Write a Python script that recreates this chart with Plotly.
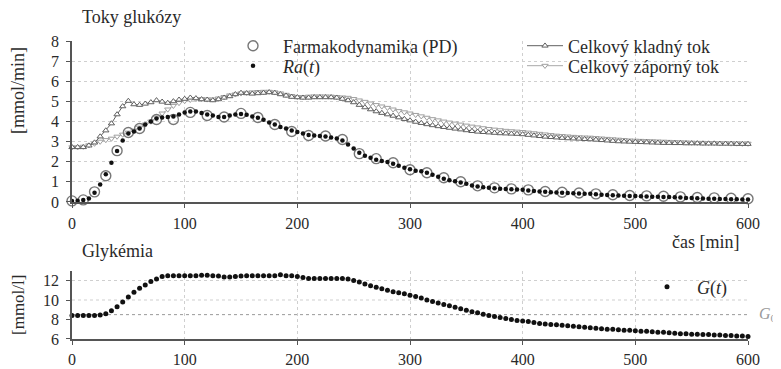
import plotly.graph_objects as go

# ---------------- data ----------------
t = list(range(0, 605, 5))

ra = [0.05, 0.06, 0.10, 0.17, 0.45, 0.87, 1.37, 1.95, 2.53, 3.05,
      3.40, 3.50, 3.65, 3.85, 4.00, 4.15, 4.20, 4.22, 4.25, 4.35,
      4.45, 4.50, 4.50, 4.42, 4.35, 4.30, 4.22, 4.22, 4.30, 4.35,
      4.37, 4.33, 4.25, 4.18, 4.08, 3.95, 3.85, 3.72, 3.65, 3.55,
      3.47, 3.40, 3.33, 3.30, 3.28, 3.25, 3.20, 3.15, 3.05, 2.85,
      2.65, 2.45, 2.30, 2.20, 2.10, 2.03, 1.98, 1.90, 1.80, 1.70,
      1.62, 1.55, 1.52, 1.45, 1.35, 1.25, 1.15, 1.08, 1.03, 0.97,
      0.90, 0.82, 0.77, 0.73, 0.70, 0.68, 0.66, 0.64, 0.63, 0.62,
      0.60, 0.57, 0.54, 0.52, 0.50, 0.48, 0.47, 0.45, 0.44, 0.43,
      0.42, 0.41, 0.40, 0.38, 0.36, 0.34, 0.33, 0.32, 0.31, 0.30,
      0.29, 0.28, 0.27, 0.26, 0.26, 0.25, 0.24, 0.23, 0.22, 0.20,
      0.19, 0.18, 0.17, 0.16, 0.16, 0.15, 0.14, 0.13, 0.13, 0.12,
      0.12]

kladny = [2.72, 2.72, 2.72, 2.80, 2.95, 3.25, 3.55, 3.90, 4.35, 4.75,
          5.02, 4.85, 4.82, 4.88, 4.95, 5.05, 4.98, 4.92, 5.00, 5.08,
          5.12, 5.18, 5.15, 5.10, 5.08, 5.05, 5.10, 5.18, 5.25, 5.35,
          5.42, 5.40, 5.38, 5.40, 5.42, 5.45, 5.42, 5.35, 5.28, 5.22,
          5.20, 5.18, 5.18, 5.20, 5.20, 5.20, 5.20, 5.18, 5.12, 5.05,
          4.95, 4.82, 4.70, 4.60, 4.50, 4.42, 4.35, 4.28, 4.20, 4.12,
          4.05, 3.98, 3.92, 3.86, 3.81, 3.76, 3.72, 3.68, 3.64, 3.60,
          3.56, 3.52, 3.49, 3.47, 3.45, 3.43, 3.41, 3.40, 3.39, 3.38,
          3.36, 3.33, 3.30, 3.27, 3.24, 3.22, 3.20, 3.18, 3.16, 3.15,
          3.14, 3.12, 3.11, 3.09, 3.07, 3.05, 3.03, 3.01, 3.00, 2.99,
          2.98, 2.97, 2.96, 2.95, 2.94, 2.93, 2.93, 2.92, 2.92, 2.91,
          2.91, 2.91, 2.90, 2.90, 2.90, 2.89, 2.89, 2.89, 2.88, 2.88,
          2.88]

zaporny = [2.72, 2.72, 2.75, 2.82, 2.90, 3.00, 3.08, 3.15, 3.25, 3.35,
           3.45, 3.55, 3.70, 3.85, 4.00, 4.20, 4.40, 4.60, 4.78, 4.92,
           5.02, 5.08, 5.12, 5.12, 5.10, 5.10, 5.15, 5.22, 5.30, 5.35,
           5.40, 5.43, 5.45, 5.47, 5.48, 5.48, 5.45, 5.40, 5.33, 5.27,
           5.22, 5.22, 5.24, 5.25, 5.25, 5.25, 5.24, 5.22, 5.20, 5.18,
           5.12, 5.05, 4.98, 4.90, 4.82, 4.75, 4.68, 4.60, 4.52, 4.46,
           4.40, 4.33, 4.26, 4.19, 4.12, 4.06, 4.00, 3.95, 3.90, 3.85,
           3.80, 3.75, 3.71, 3.67, 3.63, 3.60, 3.57, 3.54, 3.52, 3.50,
           3.48, 3.45, 3.42, 3.39, 3.36, 3.33, 3.30, 3.28, 3.26, 3.24,
           3.22, 3.21, 3.20, 3.18, 3.16, 3.14, 3.12, 3.10, 3.08, 3.06,
           3.05, 3.04, 3.03, 3.02, 3.01, 3.00, 2.99, 2.98, 2.97, 2.96,
           2.95, 2.94, 2.94, 2.93, 2.93, 2.92, 2.92, 2.91, 2.91, 2.90,
           2.90]

t_pd = [0, 10, 20, 30, 40, 50, 60, 75, 90, 105, 120, 135, 150, 165, 180,
        195, 210, 225, 240, 255, 270, 285, 300, 315, 330, 345, 360, 375,
        390, 405, 420, 435, 450, 465, 480, 495, 510, 525, 540, 555, 570,
        585, 600]
pd_vals = [0.05, 0.10, 0.50, 1.30, 2.55, 3.45, 3.65, 4.10, 4.10, 4.45, 4.30,
           4.22, 4.40, 4.20, 3.85, 3.50, 3.30, 3.28, 3.10, 2.40, 2.15, 1.95,
           1.60, 1.45, 1.20, 1.00, 0.80, 0.70, 0.65, 0.60, 0.52, 0.48, 0.44,
           0.40, 0.36, 0.32, 0.30, 0.28, 0.25, 0.22, 0.20, 0.18, 0.16]

glyk = [8.40, 8.40, 8.40, 8.40, 8.40, 8.45, 8.60, 8.90, 9.30, 9.80,
        10.30, 10.80, 11.20, 11.55, 11.90, 12.15, 12.40, 12.50, 12.50, 12.50,
        12.50, 12.50, 12.50, 12.55, 12.55, 12.50, 12.45, 12.35, 12.35, 12.40,
        12.45, 12.50, 12.50, 12.50, 12.50, 12.50, 12.50, 12.60, 12.50, 12.50,
        12.40, 12.30, 12.20, 12.20, 12.20, 12.20, 12.20, 12.20, 12.20, 12.15,
        12.00, 11.85, 11.65, 11.45, 11.30, 11.15, 11.00, 10.85, 10.75, 10.65,
        10.50, 10.35, 10.20, 10.00, 9.85, 9.70, 9.55, 9.40, 9.25, 9.10,
        8.95, 8.80, 8.70, 8.55, 8.40, 8.30, 8.20, 8.10, 8.00, 7.90,
        7.85, 7.80, 7.70, 7.60, 7.55, 7.50, 7.45, 7.40, 7.35, 7.30,
        7.25, 7.20, 7.15, 7.10, 7.05, 7.00, 7.00, 6.95, 6.90, 6.90,
        6.85, 6.80, 6.80, 6.75, 6.70, 6.70, 6.65, 6.60, 6.55, 6.55,
        6.50, 6.50, 6.45, 6.45, 6.40, 6.40, 6.35, 6.35, 6.30, 6.30,
        6.25]

G0 = 8.5
x_ticks = [0, 100, 200, 300, 400, 500, 600]
flux_ticks = [0, 1, 2, 3, 4, 5, 6, 7, 8]
glyk_ticks = [6, 8, 10, 12]
glyk_grid = [10, 12]

# ---------------- figure ----------------
FONT = "Liberation Serif, serif"
TXT = "#2a2a2a"
OFF = 8  # page body margin


def px(xp):
    return (xp - 72) / 676


def py(yp):
    return (339 - yp) / 298


fig = go.Figure()

fig.add_trace(go.Scatter(
    x=t, y=zaporny, mode="lines+markers", name="Celkový záporný tok",
    line=dict(color="#a8a8a8", width=1),
    marker=dict(symbol="triangle-down", size=5.5, color="#ffffff",
                line=dict(color="#a0a0a0", width=1)),
    legend="legend4", cliponaxis=False, xaxis="x", yaxis="y"))
fig.add_trace(go.Scatter(
    x=t, y=kladny, mode="lines+markers", name="Celkový kladný tok",
    line=dict(color="#606060", width=1),
    marker=dict(symbol="triangle-up", size=5.5, color="#ffffff",
                line=dict(color="#606060", width=1)),
    legend="legend3", cliponaxis=False, xaxis="x", yaxis="y"))
fig.add_trace(go.Scatter(
    x=t_pd, y=pd_vals, mode="markers", name="Farmakodynamika (PD)",
    marker=dict(symbol="circle-open", size=10, color="#777777",
                line=dict(width=1.4)),
    legend="legend", cliponaxis=False, xaxis="x", yaxis="y"))
fig.add_trace(go.Scatter(
    x=t, y=ra, mode="markers", name="<i>Ra</i>(<i>t</i>)",
    marker=dict(symbol="circle", size=4.5, color="#111111"),
    legend="legend2", cliponaxis=False, xaxis="x", yaxis="y"))

fig.add_trace(go.Scatter(
    x=t, y=glyk, mode="markers", name="<i>G</i>(<i>t</i>)",
    marker=dict(symbol="circle", size=5, color="#111111"),
    legend="legend5", cliponaxis=False, xaxis="x2", yaxis="y2"))

axis_common = dict(
    showline=True, linecolor="#555555", linewidth=1.6,
    ticks="outside", ticklen=4, tickwidth=1.2, tickcolor="#555555",
    showgrid=True, gridcolor="#cfcfcf", griddash="dot", gridwidth=1,
    zeroline=False, automargin=False,
    tickfont=dict(family=FONT, size=16, color=TXT),
)

legend_font = dict(family=FONT, size=18, color=TXT)


def leg(xp, yp, iw=30):
    return dict(x=px(xp), y=py(yp), xanchor="left", yanchor="middle",
                bgcolor="rgba(0,0,0,0)", font=legend_font,
                itemwidth=iw, borderwidth=0)


fig.update_layout(
    width=781 - OFF, height=369 - OFF,
    margin=dict(l=72 - OFF, r=33, t=41 - OFF, b=30, autoexpand=False),
    paper_bgcolor="white", plot_bgcolor="white",
    font=dict(family=FONT, size=16, color=TXT),
    xaxis=dict(domain=[0, 1], range=[0, 600], tickvals=x_ticks,
               anchor="y", ticklabelstandoff=2, **axis_common),
    yaxis=dict(domain=[0.46, 1], range=[0, 8], tickvals=flux_ticks,
               anchor="x", ticklabelstandoff=4, **axis_common),
    xaxis2=dict(domain=[0, 1], range=[0, 600], tickvals=x_ticks,
                anchor="y2", ticklabelstandoff=1, **axis_common),
    yaxis2=dict(domain=[0, 0.229], range=[6, 13], tickvals=glyk_ticks,
                anchor="x2", ticklabelstandoff=4,
                **{**axis_common, "showgrid": False}),
    legend=leg(223, 46, 50),
    legend2=leg(223, 66, 50),
    legend3=leg(522, 46, 36),
    legend4=leg(522, 66, 36),
    legend5=leg(637, 287, 50),
    showlegend=True,
)

# manual grid for glycaemia panel and G0 reference
for g in glyk_grid:
    fig.add_shape(type="line", xref="x2", yref="y2", x0=0, x1=600, y0=g, y1=g,
                  line=dict(color="#cfcfcf", width=1, dash="dot"), layer="below")
fig.add_shape(type="line", xref="x2", yref="y2", x0=0, x1=600, y0=G0, y1=G0,
              line=dict(color="#9a9a9a", width=1, dash="dot"), layer="below")

for text, xp, yp in [("Toky glukózy", 80, 17), ("Glykémia", 80, 251)]:
    fig.add_annotation(text=text, xref="paper", yref="paper",
                       x=px(xp), y=py(yp),
                       xanchor="left", yanchor="middle", showarrow=False,
                       font=dict(family=FONT, size=18, color=TXT))

fig.add_annotation(text="čas [min]", xref="paper", yref="paper",
                   x=px(741), y=py(242),
                   xanchor="right", yanchor="middle", showarrow=False,
                   font=dict(family=FONT, size=18, color=TXT))
fig.add_annotation(text="[mmol/min]", xref="paper", yref="paper",
                   x=px(18), y=py(90), textangle=-90,
                   xanchor="center", yanchor="middle", showarrow=False,
                   font=dict(family=FONT, size=18, color=TXT))
fig.add_annotation(text="[mmol/l]", xref="paper", yref="paper",
                   x=px(18), y=py(305), textangle=-90,
                   xanchor="center", yanchor="middle", showarrow=False,
                   font=dict(family=FONT, size=17, color=TXT))
fig.add_annotation(text="<i>G</i><sub>0</sub>", xref="paper", yref="y2",
                   x=px(757), y=G0,
                   xanchor="left", yanchor="middle", showarrow=False,
                   font=dict(family=FONT, size=16, color="#9a9a9a"))

fig.write_html("out.html")
